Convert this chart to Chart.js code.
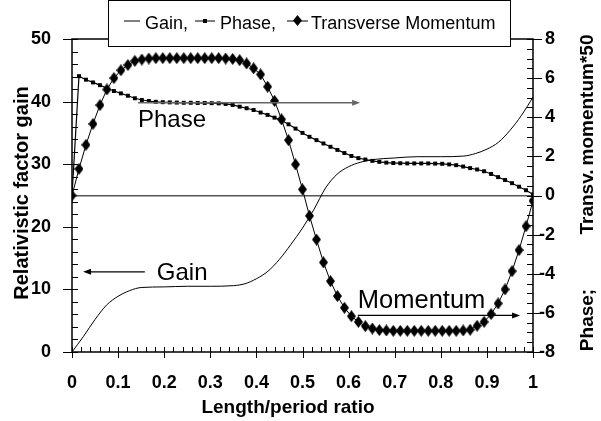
<!DOCTYPE html>
<html>
<head>
<meta charset="utf-8">
<script src="https://cdn.jsdelivr.net/npm/chart.js@4"></script>
<style>
  html, body { margin: 0; padding: 0; background: #fff; }
</style>
</head>
<body>
<canvas id="chart" width="601" height="421"></canvas>
<script>
// values
const momentum = [0, 1.36, 2.59, 3.66, 4.62, 5.42, 6.0, 6.4, 6.67, 6.88, 6.95, 7.0,
  7.02, 7.02, 7.02, 7.02, 7.02, 7.02, 7.02, 7.02, 7.02, 7.02, 7.0, 6.98,
  6.92, 6.75, 6.5, 6.19, 5.56, 4.84, 3.89, 2.83, 1.59, 0.31, -1.04, -2.25, -3.42, -4.38,
  -5.14, -5.74, -6.17, -6.46, -6.68, -6.8, -6.88, -6.9,
  -6.92, -6.92, -6.92, -6.92, -6.92, -6.92, -6.92, -6.92, -6.92, -6.92,
  -6.9, -6.86, -6.66, -6.46, -6.06, -5.52, -4.8, -3.87, -2.79, -1.57, -0.27];
const phase = [0, 6.1, 5.92, 5.78, 5.64, 5.48, 5.34, 5.22, 5.1, 4.97, 4.88, 4.83,
  4.79, 4.77, 4.76, 4.75, 4.74, 4.74, 4.73, 4.73, 4.72, 4.71, 4.68, 4.63,
  4.54, 4.46, 4.37, 4.24, 4.12, 3.98, 3.83, 3.64, 3.42, 3.2, 3.0, 2.83, 2.66, 2.49,
  2.33, 2.17, 2.02, 1.91, 1.84, 1.77, 1.72, 1.68, 1.66, 1.65, 1.64, 1.64, 1.64, 1.64,
  1.63, 1.62, 1.59, 1.55, 1.48, 1.4, 1.33, 1.24, 1.1, 0.94, 0.79, 0.63, 0.45, 0.27, 0.05];
const gainRatio = [0, 0.025, 0.05, 0.075, 0.1, 0.125, 0.15, 0.2, 0.25, 0.3, 0.35, 0.375,
  0.4, 0.425, 0.45, 0.475, 0.5, 0.525, 0.55, 0.575, 0.6, 0.625, 0.65, 0.7, 0.75, 0.8,
  0.85, 0.875, 0.9, 0.925, 0.95, 0.975, 1];
const gain = [0, 2.5, 5.2, 7.5, 8.9, 9.8, 10.3, 10.4, 10.5, 10.5, 10.6, 10.9,
  11.7, 12.9, 14.8, 17.2, 19.8, 22.8, 26.2, 28.4, 29.6, 30.3, 30.7, 31.0, 31.2, 31.2,
  31.3, 31.7, 32.4, 33.5, 35.4, 37.8, 40.7];
const xTicks = [0, 0.1, 0.2, 0.3, 0.4, 0.5, 0.6, 0.7, 0.8, 0.9, 1];
const gainTicks = [0, 10, 20, 30, 40, 50];
const phaseTicks = [-8, -6, -4, -2, 0, 2, 4, 6, 8];

// momentum and phase are sampled evenly along the ratio
const step = 1 / (momentum.length - 1);
const pts = arr => arr.map((v, i) => ({ x: i * step, y: v }));

const FONT = '"Liberation Sans", Arial, sans-serif';

// tall narrow diamond for the momentum points
function diamond(w, h) {
  const c = document.createElement('canvas');
  c.width = w; c.height = h;
  const g = c.getContext('2d');
  g.fillStyle = '#000';
  g.beginPath();
  g.moveTo(w / 2, 0); g.lineTo(w, h / 2); g.lineTo(w / 2, h); g.lineTo(0, h / 2);
  g.closePath(); g.fill();
  return c;
}
const dia = diamond(9, 12);
const diaSmall = diamond(9, 11);

function arrow(ctx, x0, x1, y) {
  const dir = x1 > x0 ? 1 : -1;
  ctx.beginPath();
  ctx.moveTo(x0, y); ctx.lineTo(x1 - dir * 6, y); ctx.stroke();
  ctx.beginPath();
  ctx.moveTo(x1, y); ctx.lineTo(x1 - dir * 8, y - 3); ctx.lineTo(x1 - dir * 8, y + 3);
  ctx.closePath(); ctx.fill();
}

const decor = {
  id: 'decor',
  afterDraw(chart) {
    const { ctx, chartArea: a, scales: { x, y, y1 } } = chart;
    ctx.save();
    // frame
    ctx.strokeStyle = '#000';
    ctx.lineWidth = 1.5;
    ctx.strokeRect(a.left, a.top, a.right - a.left, a.bottom - a.top);
    // ticks
    ctx.lineWidth = 1;
    ctx.beginPath();
    for (let v = 0; v <= 50; v += 2) {
      const p = Math.round(y.getPixelForValue(v)) + 0.5;
      ctx.moveTo(a.left - (v % 10 === 0 ? 9 : 0), p); ctx.lineTo(a.left + 6, p);
    }
    for (let k = -16; k <= 16; k++) {
      const p = Math.round(y1.getPixelForValue(k / 2)) + 0.5;
      ctx.moveTo(a.right - 6, p); ctx.lineTo(a.right + (k % 4 === 0 ? 9 : 0), p);
    }
    for (let k = 0; k <= 50; k++) {
      const p = Math.round(x.getPixelForValue(k / 50)) + 0.5;
      ctx.moveTo(p, a.bottom - 5); ctx.lineTo(p, a.bottom + (k % 5 === 0 ? 6 : 0));
    }
    ctx.stroke();

    // annotations
    ctx.fillStyle = '#000';
    ctx.font = '24px ' + FONT;
    ctx.textBaseline = 'alphabetic';
    ctx.textAlign = 'left';
    ctx.fillText('Phase', x.getPixelForValue(0.143), y1.getPixelForValue(3.5));
    ctx.fillText('Gain', x.getPixelForValue(0.184), y.getPixelForValue(11.45));
    ctx.font = '25.5px ' + FONT;
    ctx.fillText('Momentum', x.getPixelForValue(0.62), y1.getPixelForValue(-5.73));
    ctx.lineWidth = 1.3;
    ctx.strokeStyle = '#666'; ctx.fillStyle = '#666';
    arrow(ctx, x.getPixelForValue(0.143), x.getPixelForValue(0.625), y1.getPixelForValue(4.74));
    ctx.strokeStyle = '#000'; ctx.fillStyle = '#000';
    arrow(ctx, x.getPixelForValue(0.158), x.getPixelForValue(0.024), y.getPixelForValue(12.8));
    arrow(ctx, x.getPixelForValue(0.62), x.getPixelForValue(0.972), y1.getPixelForValue(-6.13));

    // axis titles
    ctx.font = 'bold 19px ' + FONT;
    ctx.textAlign = 'center';
    ctx.textBaseline = 'middle';
    ctx.fillText('Length/period ratio', 288, 408);
    ctx.save();
    ctx.font = 'bold 20px ' + FONT;
    ctx.translate(22, 193);
    ctx.rotate(-Math.PI / 2);
    ctx.fillText('Relativistic factor gain', 0, 0);
    ctx.restore();
    ctx.save();
    ctx.translate(588, 0);
    ctx.rotate(-Math.PI / 2);
    ctx.fillText('Phase;', -320, 0);
    ctx.fillText('Transv.', -202, 0);
    ctx.fillText('momentum*50', -100, 0);
    ctx.restore();

    // legend box
    ctx.fillStyle = '#fff';
    ctx.fillRect(108, 0, 402, 46);
    ctx.strokeStyle = '#000';
    ctx.lineWidth = 1;
    ctx.strokeRect(108.5, 0.5, 402, 46);
    ctx.fillStyle = '#000';
    ctx.font = '18px ' + FONT;
    ctx.textAlign = 'left';
    ctx.textBaseline = 'middle';
    const ly = 24;
    ctx.beginPath();
    ctx.moveTo(124, ly - 3); ctx.lineTo(140, ly - 3);
    ctx.moveTo(195, ly - 3); ctx.lineTo(215, ly - 3);
    ctx.moveTo(287, ly - 3); ctx.lineTo(308, ly - 3);
    ctx.stroke();
    ctx.fillRect(203, ly - 5, 4, 4);
    ctx.drawImage(diaSmall, 293, ly - 9);
    ctx.fillText('Gain,', 145, ly);
    ctx.fillText('Phase,', 220, ly);
    ctx.fillText('Transverse Momentum', 311, ly);
    ctx.restore();
  }
};

new Chart(document.getElementById('chart'), {
  type: 'line',
  data: {
    datasets: [{
      label: 'Transverse Momentum',
      data: pts(momentum),
      yAxisID: 'y1',
      borderColor: '#000',
      borderWidth: 1,
      pointStyle: dia,
      pointRadius: 5,
      pointBackgroundColor: '#000',
      tension: 0
    }, {
      label: 'Phase',
      data: pts(phase),
      yAxisID: 'y1',
      borderColor: '#000',
      borderWidth: 1.2,
      pointStyle: 'rect',
      pointRadius: 2.8,
      pointBorderWidth: 0,
      pointBackgroundColor: '#000',
      tension: 0
    }, {
      label: 'Gain',
      data: gainRatio.map((r, i) => ({ x: r, y: gain[i] })),
      yAxisID: 'y',
      borderColor: '#000',
      borderWidth: 1,
      pointRadius: 0,
      cubicInterpolationMode: 'monotone'
    }]
  },
  options: {
    responsive: false,
    animation: false,
    events: [],
    layout: { padding: { top: 39, right: 46, left: 0, bottom: 0 } },
    plugins: { legend: { display: false }, tooltip: { enabled: false } },
    scales: {
      x: {
        type: 'linear', min: 0, max: 1,
        afterBuildTicks: s => { s.ticks = xTicks.map(v => ({ value: v })); },
        afterFit: s => { s.height = 69; },
        grid: { display: false }, border: { display: false },
        ticks: { color: '#000', padding: 12, maxRotation: 0, font: { family: FONT, size: 18, weight: 'bold' },
          callback: v => String(v) }
      },
      y: {
        position: 'left', min: 0, max: 50,
        afterBuildTicks: s => { s.ticks = gainTicks.map(v => ({ value: v })); },
        afterFit: s => { s.width = 72; },
        grid: { display: false }, border: { display: false },
        ticks: { color: '#000', padding: 13, font: { family: FONT, size: 18, weight: 'bold' } }
      },
      y1: {
        position: 'right', min: -8, max: 8,
        afterBuildTicks: s => { s.ticks = phaseTicks.map(v => ({ value: v })); },
        afterFit: s => { s.width = 22; },
        border: { display: false },
        grid: {
          drawTicks: false,
          lineWidth: 1.5,
          color: c => (c.tick && c.tick.value === 0 ? '#555' : 'rgba(0,0,0,0)')
        },
        ticks: { color: '#000', padding: 6, crossAlign: 'far', font: { family: FONT, size: 18, weight: 'bold' } }
      }
    }
  },
  plugins: [decor]
});
</script>
</body>
</html>
